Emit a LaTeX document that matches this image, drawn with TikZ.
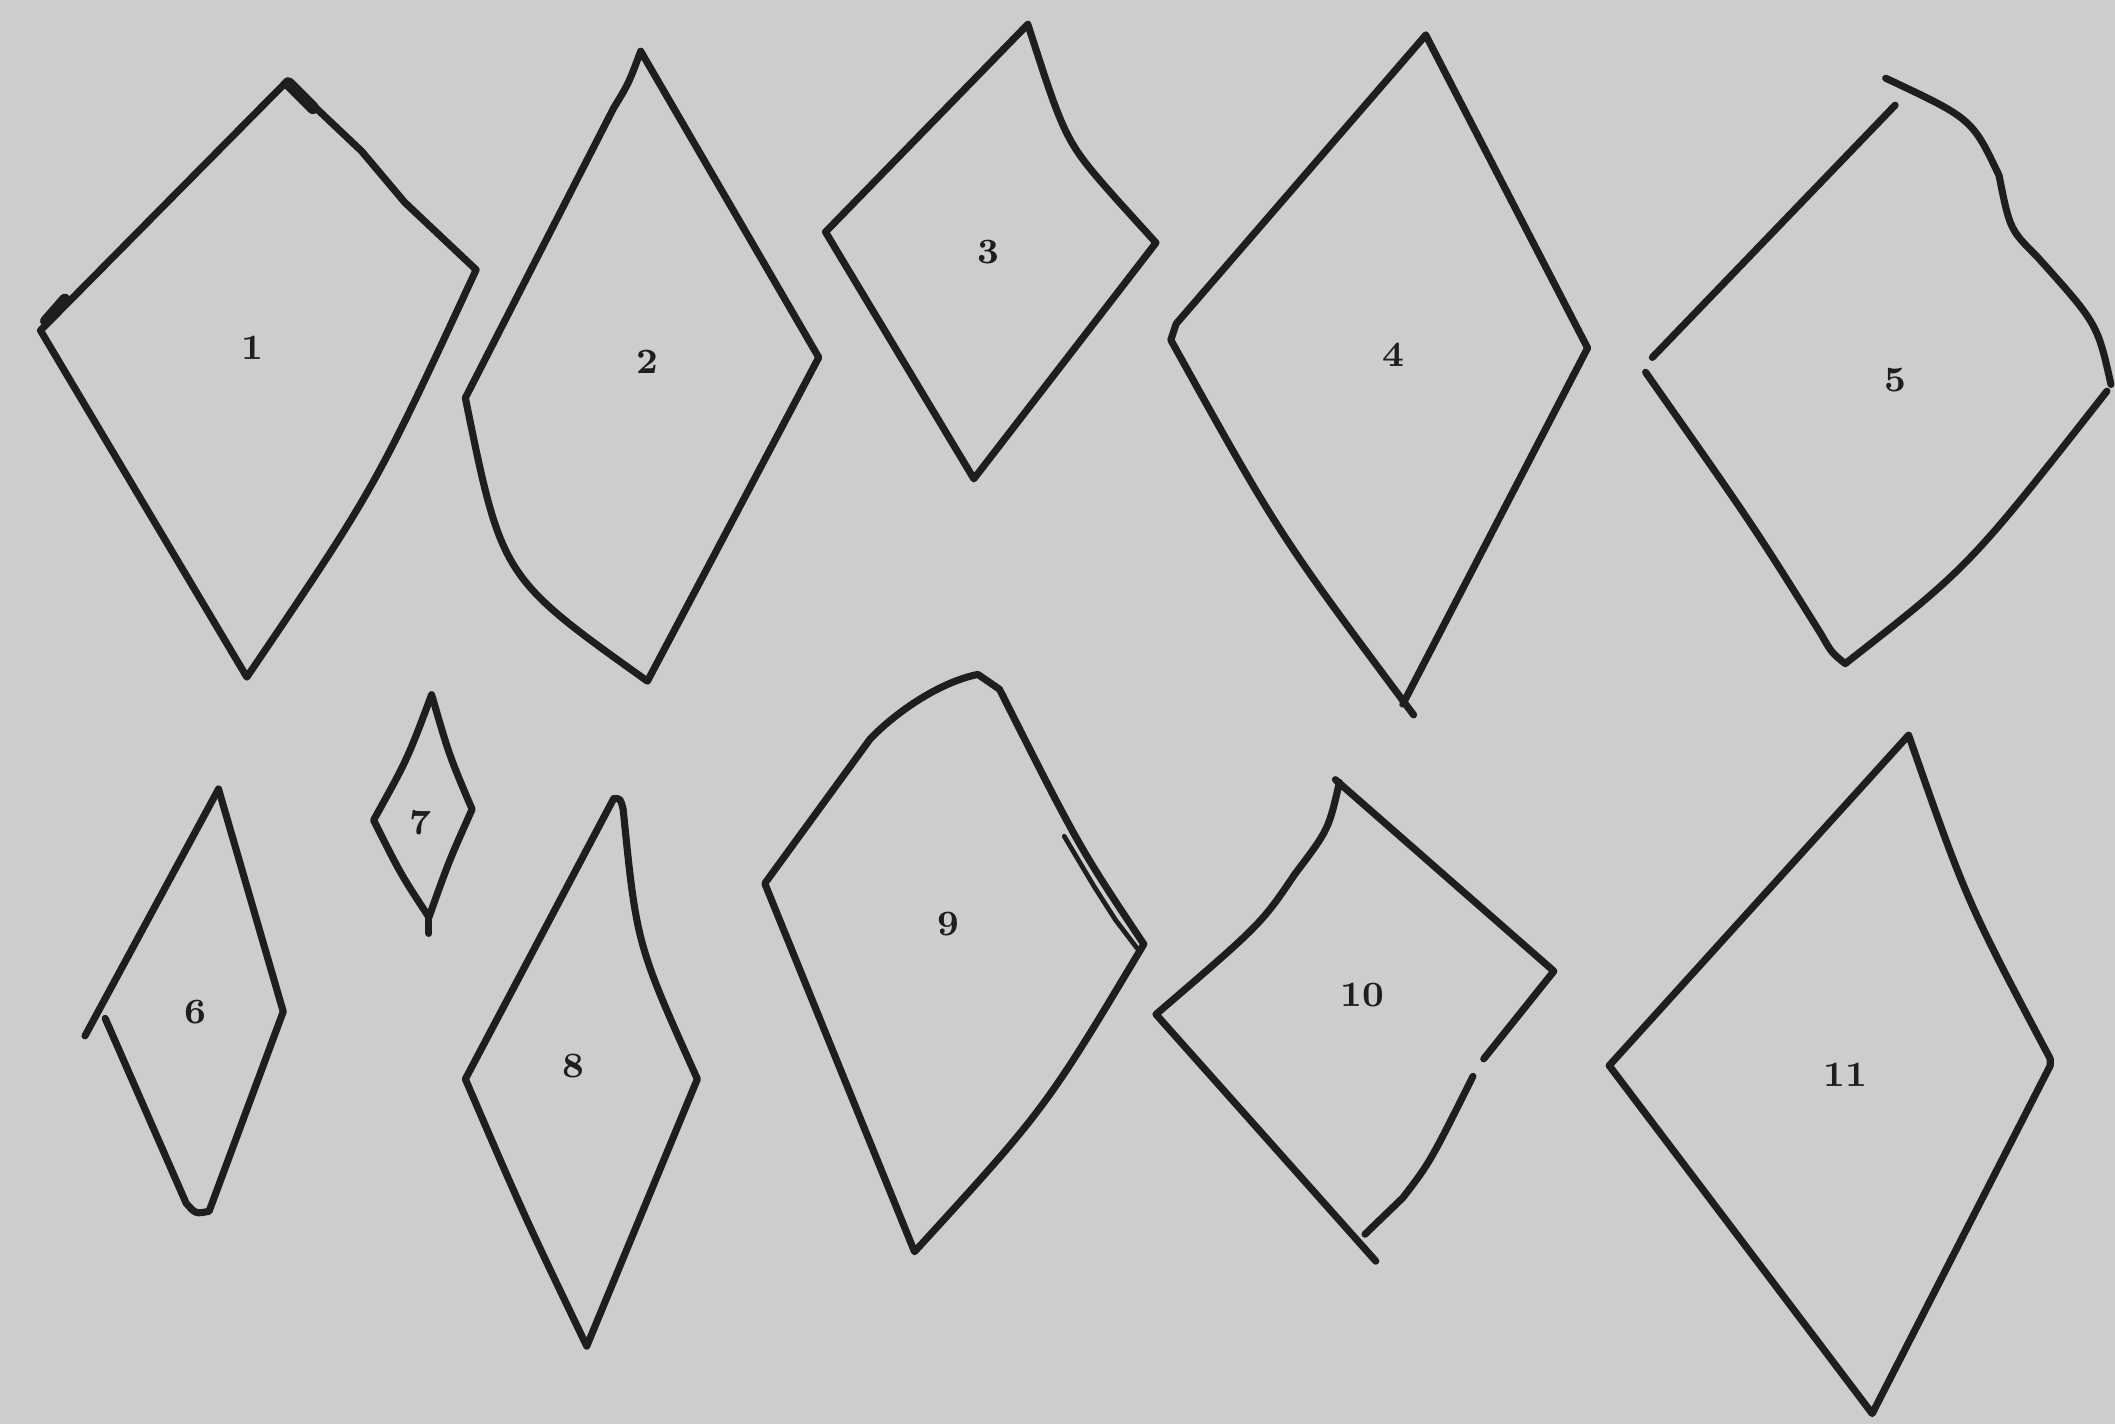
\documentclass[tikz,border=0pt]{standalone}
\definecolor{ink}{RGB}{30,30,30}
\definecolor{paper}{RGB}{205,205,205}
\tikzset{
  edge/.style={line width=1.5pt, draw=ink, line cap=round, line join=round},
  thin edge/.style={line width=1.0pt, draw=ink, line cap=round, line join=round},
  lab/.style={font=\fontsize{7.5}{8}\selectfont\bfseries, text=ink, inner sep=0pt},
}
\begin{document}
\begin{tikzpicture}[x=0.1mm,y=-0.1mm]
\fill[paper] (0,0) rectangle (1568,1056);
\useasboundingbox (0,0) rectangle (1568,1056);
% shape 1
\draw[edge] (213,60) -- (30,245) -- (183,502) .. controls (278,362) .. (353,200) -- (300,150) -- (268,112) -- cycle;
\draw[edge,line width=2.6pt] (214,62) -- (232,80);
\draw[edge,line width=2.4pt] (34,238) -- (48,222);
% shape 2
\draw[edge] (475,38) .. controls (466,62) .. (455,80) -- (345,295) .. controls (372,428) .. (480,505) -- (607,265) -- cycle;
% shape 3
\draw[edge] (762,18) -- (612,172) -- (722,355) -- (857,180) -- (828,148) .. controls (790,105) .. (762,18);
% shape 4
\draw[edge] (1057,26) -- (872,240) -- (868,252) .. controls (948,396) .. (1048,530);
\draw[edge] (1057,26) -- (1177,258) -- (1040,522);
% shape 5
\draw[edge] (1405,78) -- (1225,265);
\draw[edge] (1220,276) .. controls (1300,390) .. (1350,470) .. controls (1358,484) .. (1368,492) .. controls (1460,420) .. (1562,290);
\draw[edge] (1398,58) .. controls (1462,88) .. (1482,130) .. controls (1490,170) .. (1510,190) .. controls (1555,240) .. (1565,285);
% shape 6
\draw[edge] (162,585) -- (63,768);
\draw[edge] (78,755) -- (138,892) .. controls (145,900) .. (155,898) -- (210,750) -- (162,585);
% shape 7
\draw[edge] (320,515) .. controls (302,563) .. (277,608) .. controls (297,648) .. (318,680) .. controls (333,638) .. (350,600) .. controls (333,560) .. (320,515);
\draw[edge] (318,678) -- (318,692);
% shape 8
\draw[edge] (455,592) -- (345,800) .. controls (388,900) .. (435,998) -- (517,800) .. controls (472,700) .. (462,600) .. controls (460,592) .. (455,592);
% shape 9
\draw[edge] (725,500) .. controls (695,506) and (662,530) .. (645,548) -- (567,655) -- (678,928) .. controls (775,822) .. (848,700) .. controls (800,628) .. (741,511) -- cycle;
\draw[thin edge] (789,620) -- (811,657) -- (827,682) -- (843,703);
% shape 10
\draw[edge] (993,580) .. controls (985,615) .. (960,648) .. controls (935,685) .. (857,752) -- (1020,935);
\draw[edge] (990,578) -- (1152,720) -- (1100,785);
\draw[edge] (1092,798) .. controls (1060,862) .. (1040,888) -- (1012,915);
% shape 11
\draw[edge] (1415,545) -- (1193,790) -- (1388,1048) -- (1520,790) -- (1520,785) .. controls (1458,668) .. (1415,545);
% labels
\node[lab] (l1) at (187,258) {1};
\node[lab] (l2) at (480,268) {2};
\node[lab] (l3) at (733,187) {3};
\node[lab] (l4) at (1033,263) {4};
\node[lab] (l5) at (1405,282) {5};
\node[lab] (l6) at (145,750) {6};
\node[lab] (l7) at (312,610) {7};
\node[lab] (l8) at (425,790) {8};
\node[lab] (l9) at (703,685) {9};
\node[lab] (l10) at (1010,738) {10};
\node[lab] (l11) at (1368,797) {11};
\end{tikzpicture}
\end{document}
